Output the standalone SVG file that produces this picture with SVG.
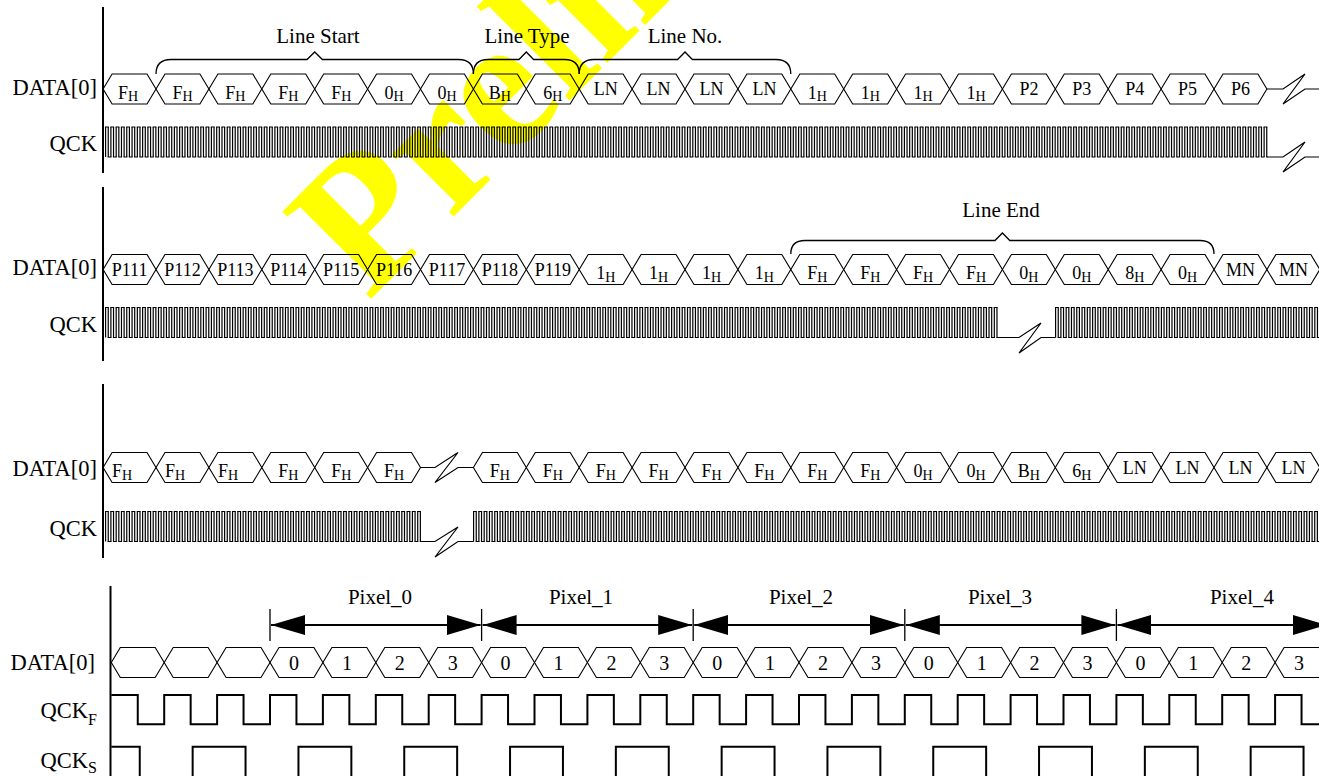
<svg xmlns="http://www.w3.org/2000/svg" width="1319" height="776" viewBox="0 0 1319 776">
<defs>
<style>
.t{font-family:"Liberation Serif","Times New Roman",serif;fill:#000}
.lb{font-size:22.5px;text-anchor:end}
.c{font-size:18px;text-anchor:middle}
.s{font-size:14px}
.d{font-size:20px;text-anchor:middle}
.bl{font-size:21px;text-anchor:middle}
.ax{stroke:#000;stroke-width:2;fill:none}
.wv{fill:none;stroke:#000;stroke-width:1.2}
.qv{stroke:#000;stroke-width:30;stroke-dasharray:1.2 1.445;fill:none}
.qh{stroke:#000;stroke-width:1.2;stroke-dasharray:3.845 1.445;fill:none}
.ck{fill:none;stroke:#000;stroke-width:2}
.br{fill:none;stroke:#000;stroke-width:1.3}
.ar{stroke:#000;stroke-width:2;marker-start:url(#ah);marker-end:url(#ah)}
.tk{stroke:#000;stroke-width:1.3}
.wm{font-family:"Liberation Serif","Times New Roman",serif;font-weight:bold;font-size:190px;fill:#ffff00}
</style>
<polygon id="hx" points="0,0 9,-15 43.9,-15 52.9,0 43.9,15 9,15" fill="none" stroke="#000" stroke-width="1.1"/>
<marker id="ah" markerUnits="userSpaceOnUse" markerWidth="34" markerHeight="20" viewBox="0 0 34 20" refX="34" refY="10" orient="auto-start-reverse"><path d="M0,0 L34,10 L0,20 Z" fill="#000"/></marker>
</defs>
<rect width="1319" height="776" fill="#fff"/>
<g id="watermark"><text class="wm" transform="translate(368,302) rotate(-45)">Preliminary</text></g>

<!-- Section 1 -->
<g id="section1">
<line class="ax" x1="103" y1="7" x2="103" y2="173"/>
<text class="t lb" x="97" y="94.5">DATA[0]</text>
<text class="t lb" x="97" y="150.5">QCK</text>
<g id="s1-data">
<g id="r1c0"><use href="#hx" x="103.1" y="89"/><text class="t c" x="128" y="98.5">F<tspan class="s" dy="2.5">H</tspan></text></g>
<g id="r1c1"><use href="#hx" x="156" y="89"/><text class="t c" x="182.5" y="98.5">F<tspan class="s" dy="2.5">H</tspan></text></g>
<g id="r1c2"><use href="#hx" x="208.9" y="89"/><text class="t c" x="235.4" y="98.5">F<tspan class="s" dy="2.5">H</tspan></text></g>
<g id="r1c3"><use href="#hx" x="261.8" y="89"/><text class="t c" x="288.3" y="98.5">F<tspan class="s" dy="2.5">H</tspan></text></g>
<g id="r1c4"><use href="#hx" x="314.7" y="89"/><text class="t c" x="341.2" y="98.5">F<tspan class="s" dy="2.5">H</tspan></text></g>
<g id="r1c5"><use href="#hx" x="367.6" y="89"/><text class="t c" x="394.1" y="98.5">0<tspan class="s" dy="2.5">H</tspan></text></g>
<g id="r1c6"><use href="#hx" x="420.5" y="89"/><text class="t c" x="447" y="98.5">0<tspan class="s" dy="2.5">H</tspan></text></g>
<g id="r1c7"><use href="#hx" x="473.4" y="89"/><text class="t c" x="499.9" y="98.5">B<tspan class="s" dy="2.5">H</tspan></text></g>
<g id="r1c8"><use href="#hx" x="526.3" y="89"/><text class="t c" x="552.8" y="98.5">6<tspan class="s" dy="2.5">H</tspan></text></g>
<g id="r1c9"><use href="#hx" x="579.2" y="89"/><text class="t c" x="605.7" y="95">LN</text></g>
<g id="r1c10"><use href="#hx" x="632.1" y="89"/><text class="t c" x="658.6" y="95">LN</text></g>
<g id="r1c11"><use href="#hx" x="685" y="89"/><text class="t c" x="711.5" y="95">LN</text></g>
<g id="r1c12"><use href="#hx" x="737.9" y="89"/><text class="t c" x="764.4" y="95">LN</text></g>
<g id="r1c13"><use href="#hx" x="790.8" y="89"/><text class="t c" x="817.3" y="98.5">1<tspan class="s" dy="2.5">H</tspan></text></g>
<g id="r1c14"><use href="#hx" x="843.7" y="89"/><text class="t c" x="870.2" y="98.5">1<tspan class="s" dy="2.5">H</tspan></text></g>
<g id="r1c15"><use href="#hx" x="896.6" y="89"/><text class="t c" x="923.1" y="98.5">1<tspan class="s" dy="2.5">H</tspan></text></g>
<g id="r1c16"><use href="#hx" x="949.5" y="89"/><text class="t c" x="976" y="98.5">1<tspan class="s" dy="2.5">H</tspan></text></g>
<g id="r1c17"><use href="#hx" x="1002.4" y="89"/><text class="t c" x="1028.9" y="95">P2</text></g>
<g id="r1c18"><use href="#hx" x="1055.3" y="89"/><text class="t c" x="1081.8" y="95">P3</text></g>
<g id="r1c19"><use href="#hx" x="1108.2" y="89"/><text class="t c" x="1134.7" y="95">P4</text></g>
<g id="r1c20"><use href="#hx" x="1161.1" y="89"/><text class="t c" x="1187.6" y="95">P5</text></g>
<g id="r1c21"><use href="#hx" x="1214" y="89"/><text class="t c" x="1240.5" y="95">P6</text></g>
<path class="wv" d="M1266.9,89 H1283 L1305,74 L1283,104 L1305,89 H1320"/>
</g>
<g id="s1-qck">
<line class="qv" x1="105" y1="142" x2="1267.4" y2="142"/>
<line class="qh" x1="105" y1="127" x2="1267.4" y2="127"/>
<line class="qh" x1="107.645" y1="157" x2="1267.4" y2="157"/>
<path class="wv" d="M1266.8,157 H1283 L1305,142 L1283,172 L1305,157 H1320"/>
</g>
</g>

<!-- Section 2 -->
<g id="section2">
<line class="ax" x1="103" y1="187" x2="103" y2="361"/>
<text class="t lb" x="97" y="274.5">DATA[0]</text>
<text class="t lb" x="97" y="331.5">QCK</text>
<g id="s2-data">
<g id="r2c0"><use href="#hx" x="103.1" y="269.5"/><text class="t c" x="129.6" y="275.5">P111</text></g>
<g id="r2c1"><use href="#hx" x="156" y="269.5"/><text class="t c" x="182.5" y="275.5">P112</text></g>
<g id="r2c2"><use href="#hx" x="208.9" y="269.5"/><text class="t c" x="235.4" y="275.5">P113</text></g>
<g id="r2c3"><use href="#hx" x="261.8" y="269.5"/><text class="t c" x="288.3" y="275.5">P114</text></g>
<g id="r2c4"><use href="#hx" x="314.7" y="269.5"/><text class="t c" x="341.2" y="275.5">P115</text></g>
<g id="r2c5"><use href="#hx" x="367.6" y="269.5"/><text class="t c" x="394.1" y="275.5">P116</text></g>
<g id="r2c6"><use href="#hx" x="420.5" y="269.5"/><text class="t c" x="447" y="275.5">P117</text></g>
<g id="r2c7"><use href="#hx" x="473.4" y="269.5"/><text class="t c" x="499.9" y="275.5">P118</text></g>
<g id="r2c8"><use href="#hx" x="526.3" y="269.5"/><text class="t c" x="552.8" y="275.5">P119</text></g>
<g id="r2c9"><use href="#hx" x="579.2" y="269.5"/><text class="t c" x="605.7" y="279">1<tspan class="s" dy="2.5">H</tspan></text></g>
<g id="r2c10"><use href="#hx" x="632.1" y="269.5"/><text class="t c" x="658.6" y="279">1<tspan class="s" dy="2.5">H</tspan></text></g>
<g id="r2c11"><use href="#hx" x="685" y="269.5"/><text class="t c" x="711.5" y="279">1<tspan class="s" dy="2.5">H</tspan></text></g>
<g id="r2c12"><use href="#hx" x="737.9" y="269.5"/><text class="t c" x="764.4" y="279">1<tspan class="s" dy="2.5">H</tspan></text></g>
<g id="r2c13"><use href="#hx" x="790.8" y="269.5"/><text class="t c" x="817.3" y="279">F<tspan class="s" dy="2.5">H</tspan></text></g>
<g id="r2c14"><use href="#hx" x="843.7" y="269.5"/><text class="t c" x="870.2" y="279">F<tspan class="s" dy="2.5">H</tspan></text></g>
<g id="r2c15"><use href="#hx" x="896.6" y="269.5"/><text class="t c" x="923.1" y="279">F<tspan class="s" dy="2.5">H</tspan></text></g>
<g id="r2c16"><use href="#hx" x="949.5" y="269.5"/><text class="t c" x="976" y="279">F<tspan class="s" dy="2.5">H</tspan></text></g>
<g id="r2c17"><use href="#hx" x="1002.4" y="269.5"/><text class="t c" x="1028.9" y="279">0<tspan class="s" dy="2.5">H</tspan></text></g>
<g id="r2c18"><use href="#hx" x="1055.3" y="269.5"/><text class="t c" x="1081.8" y="279">0<tspan class="s" dy="2.5">H</tspan></text></g>
<g id="r2c19"><use href="#hx" x="1108.2" y="269.5"/><text class="t c" x="1134.7" y="279">8<tspan class="s" dy="2.5">H</tspan></text></g>
<g id="r2c20"><use href="#hx" x="1161.1" y="269.5"/><text class="t c" x="1187.6" y="279">0<tspan class="s" dy="2.5">H</tspan></text></g>
<g id="r2c21"><use href="#hx" x="1214" y="269.5"/><text class="t c" x="1240.5" y="275.5">MN</text></g>
<g id="r2c22"><use href="#hx" x="1266.9" y="269.5"/><text class="t c" x="1293.4" y="275.5">MN</text></g>
</g>
<g id="s2-qck">
<line class="qv" x1="105" y1="322.5" x2="997.6" y2="322.5"/>
<line class="qh" x1="105" y1="307.5" x2="997.6" y2="307.5"/>
<line class="qh" x1="107.645" y1="337.5" x2="997.6" y2="337.5"/>
<path class="wv" d="M996.9,337.5 H1019 L1041,323 L1019,353 L1041,337.5 H1055.6"/>
<line class="qv" x1="1055" y1="322.5" x2="1320" y2="322.5"/>
<line class="qh" x1="1055" y1="307.5" x2="1320" y2="307.5"/>
<line class="qh" x1="1057.645" y1="337.5" x2="1320" y2="337.5"/>
</g>
</g>

<!-- Section 3 -->
<g id="section3">
<line class="ax" x1="103" y1="384" x2="103" y2="558"/>
<text class="t lb" x="97" y="476">DATA[0]</text>
<text class="t lb" x="97" y="535.5">QCK</text>
<g id="s3-data">
<g id="r3c0"><use href="#hx" x="103.1" y="467.5"/><text class="t c" x="122" y="477">F<tspan class="s" dy="2.5">H</tspan></text></g>
<g id="r3c1"><use href="#hx" x="156" y="467.5"/><text class="t c" x="175" y="477">F<tspan class="s" dy="2.5">H</tspan></text></g>
<g id="r3c2"><use href="#hx" x="208.9" y="467.5"/><text class="t c" x="228" y="477">F<tspan class="s" dy="2.5">H</tspan></text></g>
<g id="r3c3"><use href="#hx" x="261.8" y="467.5"/><text class="t c" x="288.3" y="477">F<tspan class="s" dy="2.5">H</tspan></text></g>
<g id="r3c4"><use href="#hx" x="314.7" y="467.5"/><text class="t c" x="341.2" y="477">F<tspan class="s" dy="2.5">H</tspan></text></g>
<g id="r3c5"><use href="#hx" x="367.6" y="467.5"/><text class="t c" x="394.1" y="477">F<tspan class="s" dy="2.5">H</tspan></text></g>
<path class="wv" d="M420.5,467.5 H435 L458,452.5 L435,482.5 L458,467.5 H473.4"/>
<g id="r3c7"><use href="#hx" x="473.4" y="467.5"/><text class="t c" x="499.9" y="477">F<tspan class="s" dy="2.5">H</tspan></text></g>
<g id="r3c8"><use href="#hx" x="526.3" y="467.5"/><text class="t c" x="552.8" y="477">F<tspan class="s" dy="2.5">H</tspan></text></g>
<g id="r3c9"><use href="#hx" x="579.2" y="467.5"/><text class="t c" x="605.7" y="477">F<tspan class="s" dy="2.5">H</tspan></text></g>
<g id="r3c10"><use href="#hx" x="632.1" y="467.5"/><text class="t c" x="658.6" y="477">F<tspan class="s" dy="2.5">H</tspan></text></g>
<g id="r3c11"><use href="#hx" x="685" y="467.5"/><text class="t c" x="711.5" y="477">F<tspan class="s" dy="2.5">H</tspan></text></g>
<g id="r3c12"><use href="#hx" x="737.9" y="467.5"/><text class="t c" x="764.4" y="477">F<tspan class="s" dy="2.5">H</tspan></text></g>
<g id="r3c13"><use href="#hx" x="790.8" y="467.5"/><text class="t c" x="817.3" y="477">F<tspan class="s" dy="2.5">H</tspan></text></g>
<g id="r3c14"><use href="#hx" x="843.7" y="467.5"/><text class="t c" x="870.2" y="477">F<tspan class="s" dy="2.5">H</tspan></text></g>
<g id="r3c15"><use href="#hx" x="896.6" y="467.5"/><text class="t c" x="923.1" y="477">0<tspan class="s" dy="2.5">H</tspan></text></g>
<g id="r3c16"><use href="#hx" x="949.5" y="467.5"/><text class="t c" x="976" y="477">0<tspan class="s" dy="2.5">H</tspan></text></g>
<g id="r3c17"><use href="#hx" x="1002.4" y="467.5"/><text class="t c" x="1028.9" y="477">B<tspan class="s" dy="2.5">H</tspan></text></g>
<g id="r3c18"><use href="#hx" x="1055.3" y="467.5"/><text class="t c" x="1081.8" y="477">6<tspan class="s" dy="2.5">H</tspan></text></g>
<g id="r3c19"><use href="#hx" x="1108.2" y="467.5"/><text class="t c" x="1134.7" y="473.5">LN</text></g>
<g id="r3c20"><use href="#hx" x="1161.1" y="467.5"/><text class="t c" x="1187.6" y="473.5">LN</text></g>
<g id="r3c21"><use href="#hx" x="1214" y="467.5"/><text class="t c" x="1240.5" y="473.5">LN</text></g>
<g id="r3c22"><use href="#hx" x="1266.9" y="467.5"/><text class="t c" x="1293.4" y="473.5">LN</text></g>
</g>
<g id="s3-qck">
<line class="qv" x1="105" y1="526.5" x2="420.96" y2="526.5"/>
<line class="qh" x1="105" y1="511.5" x2="420.96" y2="511.5"/>
<line class="qh" x1="107.645" y1="541.5" x2="420.96" y2="541.5"/>
<path class="wv" d="M420.4,541.5 H435 L458,527 L435,557 L458,541.5 H473.6"/>
<line class="qv" x1="473" y1="526.5" x2="1320" y2="526.5"/>
<line class="qh" x1="473" y1="511.5" x2="1320" y2="511.5"/>
<line class="qh" x1="475.645" y1="541.5" x2="1320" y2="541.5"/>
</g>
</g>

<!-- Section 4 -->
<g id="section4">
<line class="ax" x1="110.5" y1="586" x2="110.5" y2="776"/>
<text class="t lb" x="95" y="669.5">DATA[0]</text>
<text class="t lb" x="97" y="718">QCK<tspan font-size="16" dy="7">F</tspan></text>
<text class="t lb" x="97" y="768">QCK<tspan font-size="16" dy="5">S</tspan></text>
<g id="s4-data">
<g id="r4c0"><use href="#hx" x="111.3" y="662.5"/></g>
<g id="r4c1"><use href="#hx" x="164.2" y="662.5"/></g>
<g id="r4c2"><use href="#hx" x="217.1" y="662.5"/></g>
<g id="r4c3"><use href="#hx" x="270" y="662.5"/><text class="t d" x="294" y="669.5">0</text></g>
<g id="r4c4"><use href="#hx" x="322.9" y="662.5"/><text class="t d" x="346.9" y="669.5">1</text></g>
<g id="r4c5"><use href="#hx" x="375.8" y="662.5"/><text class="t d" x="399.8" y="669.5">2</text></g>
<g id="r4c6"><use href="#hx" x="428.7" y="662.5"/><text class="t d" x="452.7" y="669.5">3</text></g>
<g id="r4c7"><use href="#hx" x="481.6" y="662.5"/><text class="t d" x="505.6" y="669.5">0</text></g>
<g id="r4c8"><use href="#hx" x="534.5" y="662.5"/><text class="t d" x="558.5" y="669.5">1</text></g>
<g id="r4c9"><use href="#hx" x="587.4" y="662.5"/><text class="t d" x="611.4" y="669.5">2</text></g>
<g id="r4c10"><use href="#hx" x="640.3" y="662.5"/><text class="t d" x="664.3" y="669.5">3</text></g>
<g id="r4c11"><use href="#hx" x="693.2" y="662.5"/><text class="t d" x="717.2" y="669.5">0</text></g>
<g id="r4c12"><use href="#hx" x="746.1" y="662.5"/><text class="t d" x="770.1" y="669.5">1</text></g>
<g id="r4c13"><use href="#hx" x="799" y="662.5"/><text class="t d" x="823" y="669.5">2</text></g>
<g id="r4c14"><use href="#hx" x="851.9" y="662.5"/><text class="t d" x="875.9" y="669.5">3</text></g>
<g id="r4c15"><use href="#hx" x="904.8" y="662.5"/><text class="t d" x="928.8" y="669.5">0</text></g>
<g id="r4c16"><use href="#hx" x="957.7" y="662.5"/><text class="t d" x="981.7" y="669.5">1</text></g>
<g id="r4c17"><use href="#hx" x="1010.6" y="662.5"/><text class="t d" x="1034.6" y="669.5">2</text></g>
<g id="r4c18"><use href="#hx" x="1063.5" y="662.5"/><text class="t d" x="1087.5" y="669.5">3</text></g>
<g id="r4c19"><use href="#hx" x="1116.4" y="662.5"/><text class="t d" x="1140.4" y="669.5">0</text></g>
<g id="r4c20"><use href="#hx" x="1169.3" y="662.5"/><text class="t d" x="1193.3" y="669.5">1</text></g>
<g id="r4c21"><use href="#hx" x="1222.2" y="662.5"/><text class="t d" x="1246.2" y="669.5">2</text></g>
<g id="r4c22"><use href="#hx" x="1275.1" y="662.5"/><text class="t d" x="1299.1" y="669.5">3</text></g>
</g>
<g id="s4-qckf"><path class="ck" d="M111.3,695h26.45v29.3h26.45v-29.3h26.45v29.3h26.45v-29.3h26.45v29.3h26.45v-29.3h26.45v29.3h26.45v-29.3h26.45v29.3h26.45v-29.3h26.45v29.3h26.45v-29.3h26.45v29.3h26.45v-29.3h26.45v29.3h26.45v-29.3h26.45v29.3h26.45v-29.3h26.45v29.3h26.45v-29.3h26.45v29.3h26.45v-29.3h26.45v29.3h26.45v-29.3h26.45v29.3h26.45v-29.3h26.45v29.3h26.45v-29.3h26.45v29.3h26.45v-29.3h26.45v29.3h26.45v-29.3h26.45v29.3h26.45v-29.3h26.45v29.3h26.45v-29.3h26.45v29.3h26.45v-29.3h26.45v29.3h26.45v-29.3h26.45v29.3h26.45v-29.3h26.45v29.3h26.45v-29.3h26.45v29.3h26.45v-29.3h26.45v29.3h26.45v-29.3h26.45v29.3h26.45v-29.3"/></g>
<g id="s4-qcks"><path class="ck" d="M111.3,746.7H139.75V790h52.9V746.7h52.9V790h52.9V746.7h52.9V790h52.9V746.7h52.9V790h52.9V746.7h52.9V790h52.9V746.7h52.9V790h52.9V746.7h52.9V790h52.9V746.7h52.9V790h52.9V746.7h52.9V790h52.9V746.7h52.9V790h52.9V746.7h52.9V790h52.9V746.7h52.9V790h52.9V746.7h52.9V790"/></g>
<text class="t bl" x="380" y="604">Pixel_0</text>
<text class="t bl" x="581" y="604">Pixel_1</text>
<text class="t bl" x="801" y="604">Pixel_2</text>
<text class="t bl" x="1000" y="604">Pixel_3</text>
<text class="t bl" x="1242" y="604">Pixel_4</text>
</g>

<g id="connectors">
<path class="br" d="M156,74 Q156,59.5 171,59.5 H307 L314.7,52 L322.4,59.5 H458.4 Q473.4,59.5 473.4,74"/>
<path class="br" d="M473.4,74 Q473.4,59.5 488,59.5 H519 L526.3,52 L533.6,59.5 H564.6 Q579.2,59.5 579.2,74"/>
<path class="br" d="M579.2,74 Q579.2,59.5 594,59.5 H677.6 L685,52 L692.4,59.5 H776 Q790.8,59.5 790.8,74"/>
<path class="br" d="M790.8,254 Q790.8,240.5 805,240.5 H995 L1002.4,233 L1009.8,240.5 H1200 Q1214,240.5 1214,254"/>
<text class="t bl" x="318" y="43">Line Start</text>
<text class="t bl" x="527" y="43">Line Type</text>
<text class="t bl" x="685" y="43">Line No.</text>
<text class="t bl" x="1001" y="217">Line End</text>
<line class="tk" x1="270" y1="609" x2="270" y2="641"/>
<line class="tk" x1="481.6" y1="609" x2="481.6" y2="641"/>
<line class="tk" x1="693.2" y1="609" x2="693.2" y2="641"/>
<line class="tk" x1="904.8" y1="609" x2="904.8" y2="641"/>
<line class="tk" x1="1116.4" y1="609" x2="1116.4" y2="641"/>
<line class="ar" x1="271" y1="625" x2="480.6" y2="625"/>
<line class="ar" x1="482.6" y1="625" x2="692.2" y2="625"/>
<line class="ar" x1="694.2" y1="625" x2="903.8" y2="625"/>
<line class="ar" x1="905.8" y1="625" x2="1115.4" y2="625"/>
<line class="ar" x1="1117.4" y1="625" x2="1327" y2="625"/>
</g>
</svg>
